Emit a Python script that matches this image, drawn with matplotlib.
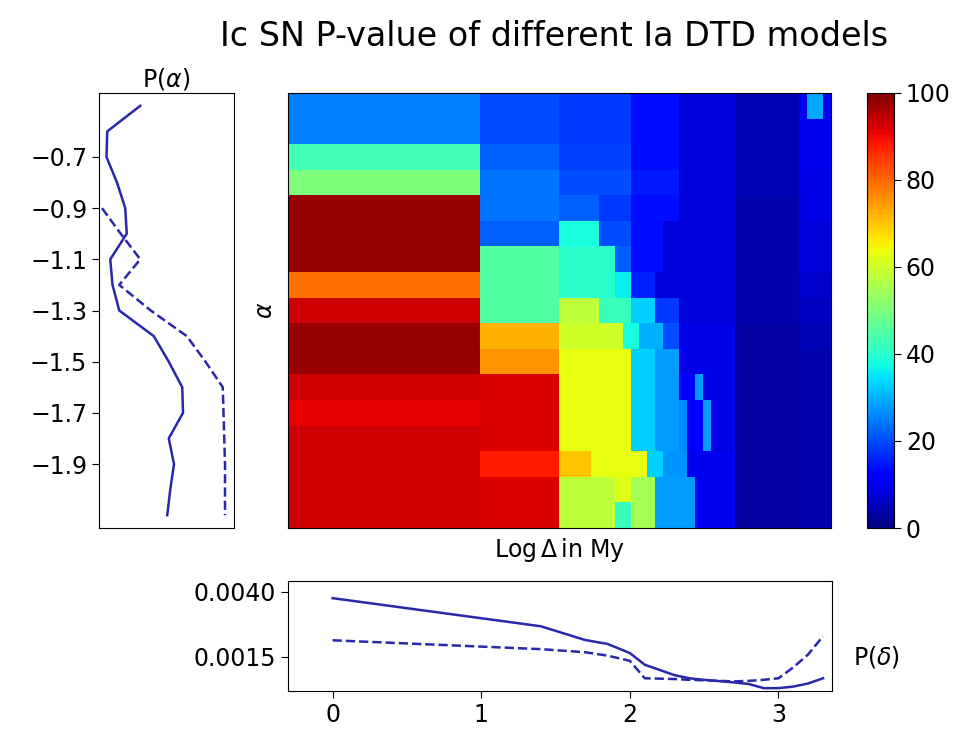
import numpy as np
import matplotlib
matplotlib.use('Agg')
from matplotlib import pyplot as plt

plt.rcParams['font.family'] = ['DejaVu Sans']
plt.rcParams['mathtext.fontset'] = 'dejavusans'

### alpha values of the DTD grid (rows of the map)
alphas = [-0.5, -0.6, -0.7, -0.8, -0.9, -1.0, -1.1, -1.2, -1.3,
          -1.4, -1.5, -1.6, -1.7, -1.8, -1.9, -2.0, -2.1]

### P-value map, each row as (number of delta cells, P-value in %)
pmap_rows = [
    [(24, 25), (10, 20), (9, 18), (6, 14), (7, 8), (8, 5), (1, 10), (2, 29), (1, 10)],
    [(24, 25), (10, 20), (9, 18), (6, 14), (7, 8), (8, 5), (4, 10)],
    [(24, 43), (10, 22), (9, 19), (6, 14), (7, 8), (8, 5), (4, 10)],
    [(24, 50), (10, 24), (9, 20), (6, 15), (7, 8), (8, 5), (4, 9)],
    [(24, 98), (10, 24), (5, 22), (4, 18), (6, 14), (7, 8), (8, 4), (4, 9)],
    [(24, 98), (10, 22), (5, 38), (4, 20), (4, 14), (9, 8), (8, 4), (4, 8)],
    [(24, 98), (10, 45), (7, 40), (2, 22), (4, 14), (9, 8), (8, 4), (4, 8)],
    [(24, 79), (10, 45), (7, 40), (2, 36), (3, 16), (10, 8), (8, 4), (4, 7)],
    [(24, 93), (10, 45), (5, 58), (4, 42), (3, 33), (3, 18), (7, 8), (8, 4), (4, 6)],
    [(24, 98), (10, 72), (8, 60), (2, 38), (3, 30), (2, 20), (7, 9), (8, 3), (4, 5)],
    [(24, 98), (10, 75), (9, 63), (3, 33), (3, 28), (7, 9), (8, 3), (4, 4)],
    [(24, 93), (10, 92), (9, 63), (3, 33), (3, 28), (2, 12), (1, 28), (4, 9), (8, 3), (4, 4)],
    [(24, 91), (10, 92), (9, 63), (3, 33), (3, 28), (1, 26), (2, 12), (1, 28), (3, 9), (8, 3), (4, 4)],
    [(24, 93), (10, 92), (9, 63), (3, 33), (3, 28), (1, 26), (2, 12), (1, 28), (3, 9), (8, 3), (4, 4)],
    [(24, 93), (10, 88), (4, 70), (7, 63), (2, 33), (3, 27), (6, 10), (8, 3), (4, 4)],
    [(24, 93), (10, 92), (7, 58), (2, 62), (3, 55), (5, 28), (5, 10), (8, 3), (4, 4)],
    [(24, 93), (10, 92), (7, 58), (2, 42), (3, 55), (5, 28), (5, 10), (8, 3), (4, 4)],
]

### marginal P(alpha), solid and dashed
p_alpha_solid = [0.055, 0.011, 0.010, 0.024, 0.035, 0.037, 0.015, 0.018, 0.027,
                 0.073, 0.093, 0.111, 0.112, 0.093, 0.100, 0.095, 0.091]
p_alpha_dashed = [np.nan, np.nan, np.nan, np.nan, 0.004, 0.029, 0.055, 0.027, 0.069,
                  0.117, 0.142, 0.165, 0.166, 0.167, 0.168, 0.168, 0.168]

### marginal P(delta) against log delta (My)
log_delta = [0, 1.4, 1.7, 1.85, 2.0, 2.1, 2.3, 2.4, 2.5, 2.6, 2.7, 2.8, 2.9, 3.0, 3.1, 3.2, 3.3]
p_delta_solid = [0.00376, 0.00268, 0.00215, 0.00200, 0.00165, 0.00120, 0.00080, 0.00068,
                 0.00062, 0.00057, 0.00052, 0.00046, 0.00030, 0.00030, 0.00036, 0.00048, 0.00068]
p_delta_dashed = [0.00214, 0.00180, 0.00168, 0.00155, 0.00135, 0.00068, 0.00065, 0.00062,
                  0.00060, 0.00058, 0.00056, 0.00058, 0.00062, 0.00068, 0.00110, 0.00160, 0.00230]

pmap = np.array([np.repeat([v for n, v in r], [n for n, v in r]) for r in pmap_rows], dtype=float)

lc = '#2828a8'
W, H = 977, 736

def box(x0, y0, x1, y1):
    return [x0 / W, 1 - y1 / H, (x1 - x0) / W, (y1 - y0) / H]

fig = plt.figure(figsize=(9.77, 7.36), dpi=100)

ax_map = fig.add_axes(box(288, 93, 831, 528))
ax_a = fig.add_axes(box(99, 93, 234, 528))
cax = fig.add_axes(box(867, 93, 894, 528))
ax_d = fig.add_axes(box(288, 581, 832, 691))

im = ax_map.imshow(pmap, aspect='auto', cmap='jet', vmin=0, vmax=100, interpolation='nearest')
ax_map.set_xticks([])
ax_map.set_yticks([])
ax_map.set_ylabel(r'$\alpha$', fontsize=17, labelpad=8)
ax_map.set_xlabel(r'Log$\,\Delta\,$in My', fontsize=17, labelpad=6)

cb = fig.colorbar(im, cax=cax, ticks=[0, 20, 40, 60, 80, 100])
cb.ax.tick_params(labelsize=17, length=5)

ax_a.plot(p_alpha_solid, alphas, '-', color=lc, lw=1.8)
ax_a.plot(p_alpha_dashed, alphas, '--', color=lc, lw=1.8)
ax_a.set_ylim(-2.15, -0.45)
ax_a.set_xlim(0, 0.18)
ax_a.set_xticks([])
ax_a.set_yticks([-0.7, -0.9, -1.1, -1.3, -1.5, -1.7, -1.9])
ax_a.tick_params(labelsize=17, length=5)
ax_a.set_title(r'P($\alpha$)', fontsize=17, pad=5)

ax_d.plot(log_delta, p_delta_solid, '-', color=lc, lw=1.8)
ax_d.plot(log_delta, p_delta_dashed, '--', color=lc, lw=1.8)
ax_d.set_xlim(-0.3, 3.36)
ax_d.set_ylim(0.00019, 0.00442)
ax_d.set_yticks([0.0015, 0.0040])
ax_d.set_yticklabels(['0.0015', '0.0040'])
ax_d.set_xticks([0, 1, 2, 3])
ax_d.tick_params(labelsize=17, length=5)
fig.text(877 / W, 1 - 657 / H, r'P($\delta$)', fontsize=17, ha='center', va='center')

fig.text(554 / W, 1 - 37 / H, 'Ic SN P-value of different Ia DTD models', fontsize=24,
         ha='center', va='center')

fig.savefig('out.png', dpi=100)
